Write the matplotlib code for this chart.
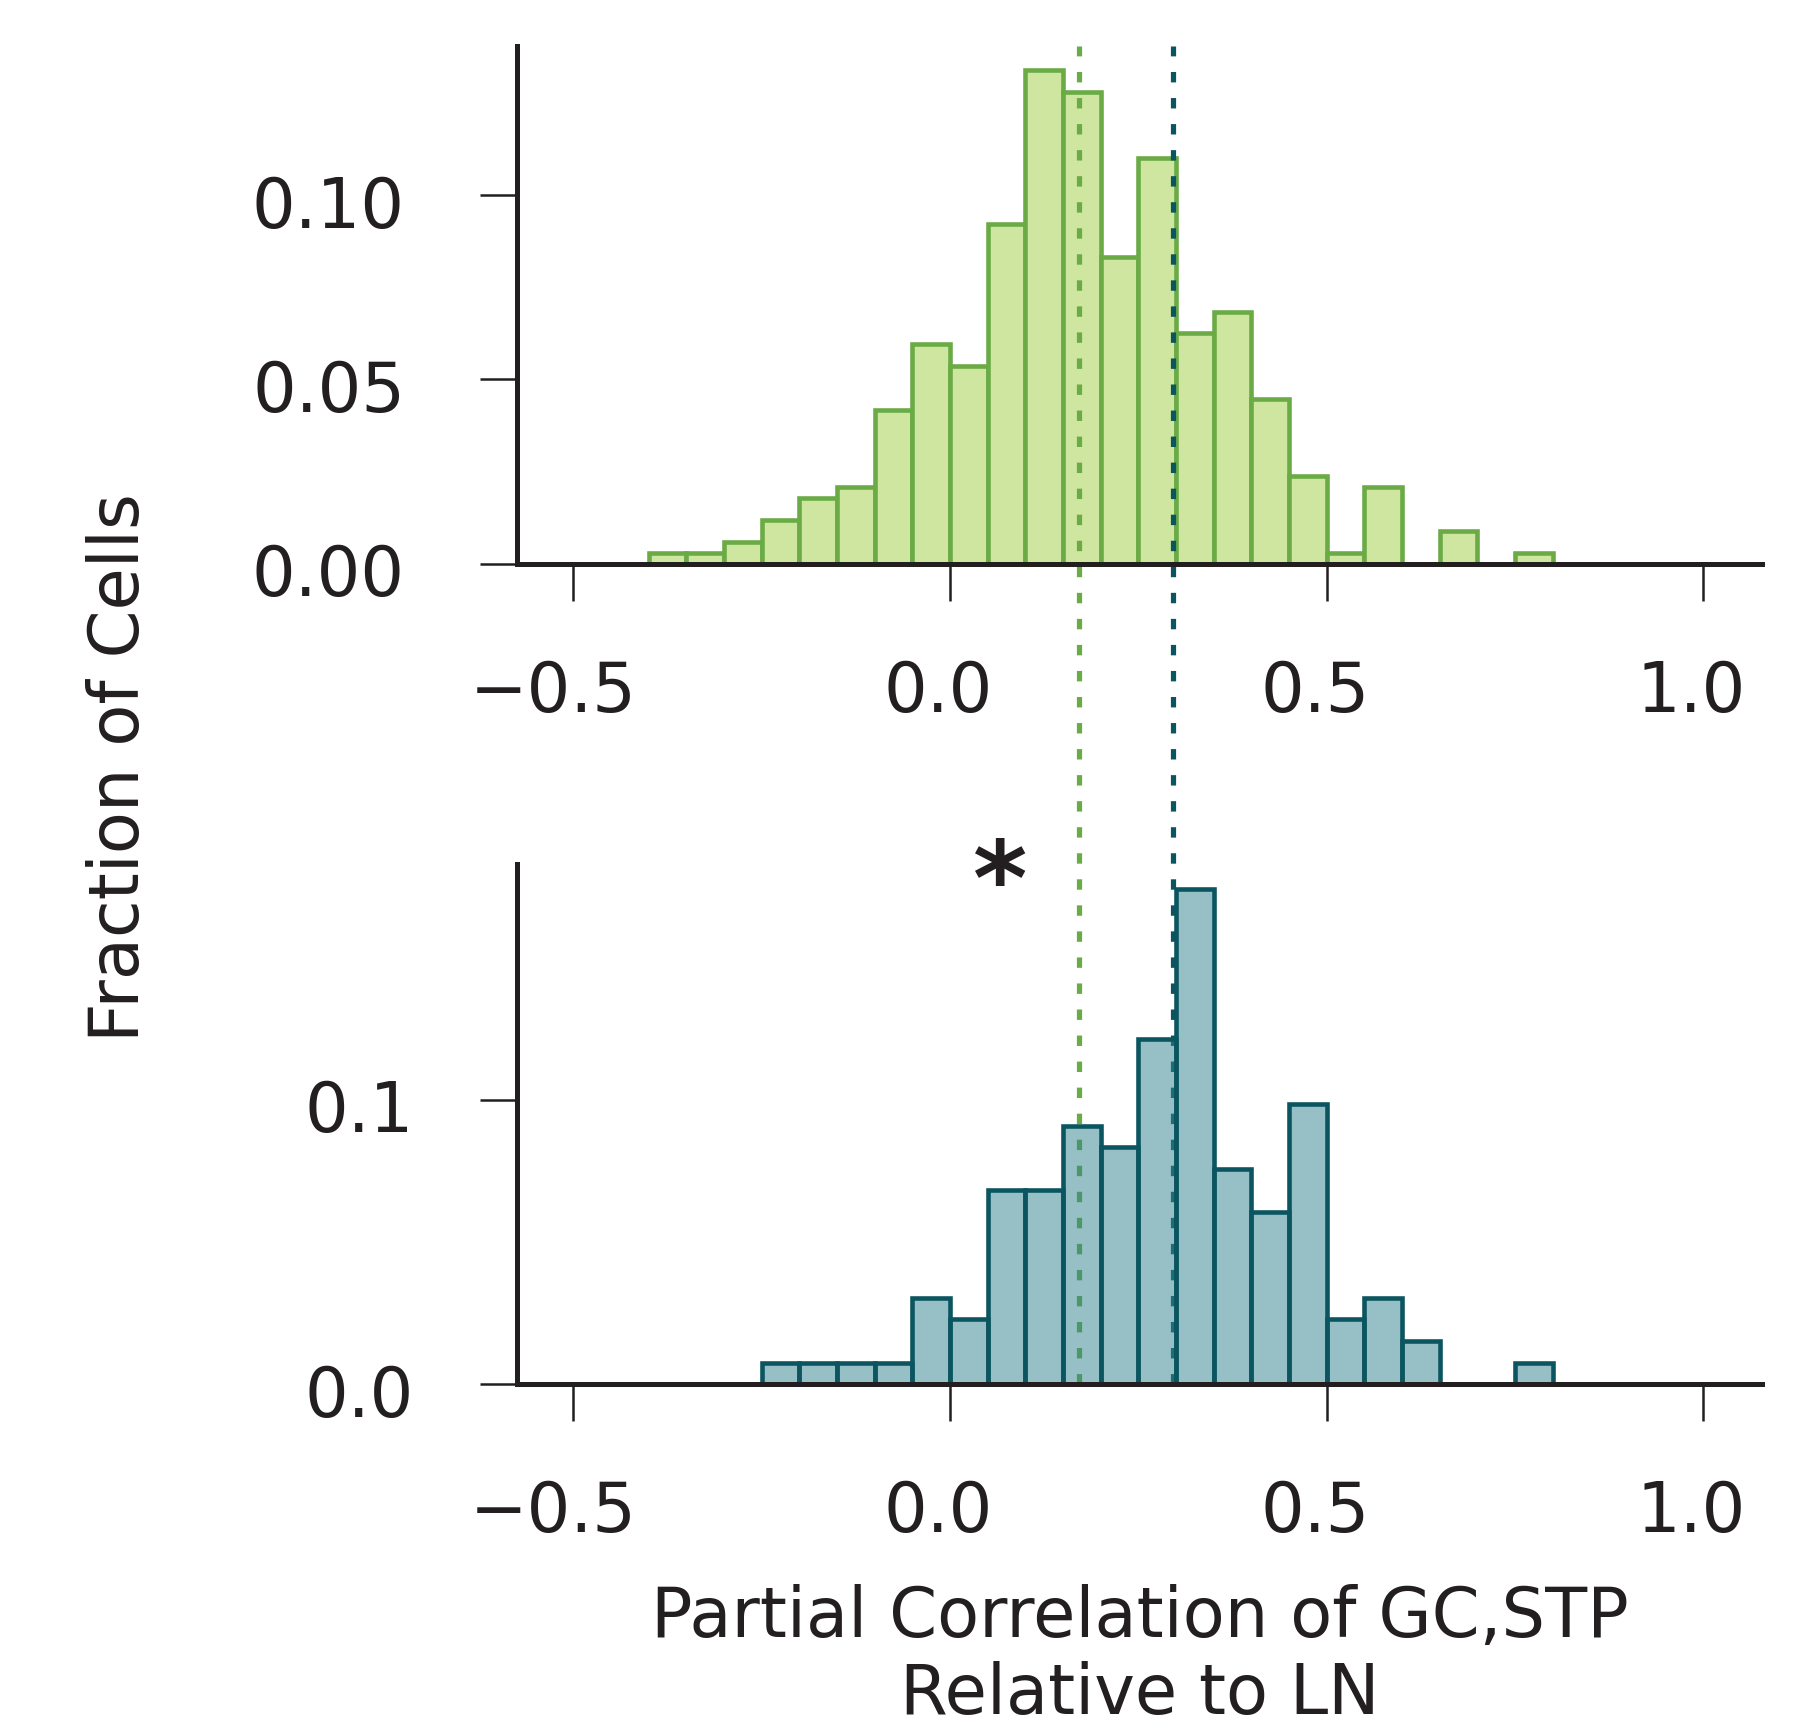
import matplotlib
matplotlib.use('Agg')
import matplotlib.pyplot as plt
import matplotlib.transforms as mtransforms
import numpy as np

# binned cell counts (bin width 0.05)
bin_width = 0.05
gcstp_first_edge = -0.40
gcstp_counts = [1, 1, 2, 4, 6, 7, 14, 20, 18, 31, 45, 43, 28, 37, 21, 23, 15, 8, 1, 7, 0, 3, 0, 1]
stp_first_edge = -0.25
stp_counts = [1, 1, 1, 1, 4, 3, 9, 9, 12, 11, 16, 23, 10, 8, 13, 3, 4, 2, 0, 0, 1]

# medians of the two groups
gcstp_median = 0.171
stp_median = 0.296

x_ticks = [-0.5, 0.0, 0.5, 1.0]
top_y_ticks = [0.00, 0.05, 0.10]
bottom_y_ticks = [0.0, 0.1]

green_edge = '#6aab46'
green_fill = '#cfe6a0'
teal_edge = '#0b5560'
teal_fill = (0.184, 0.514, 0.553, 0.5)
text_color = '#231f20'

plt.rcParams['font.family'] = 'DejaVu Sans'
plt.rcParams['text.color'] = text_color
plt.rcParams['axes.labelcolor'] = text_color

DPI = 300
fig = plt.figure(figsize=(1813 / DPI, 1729 / DPI), dpi=DPI)
ax1 = fig.add_axes([0.285, 0.674, 0.687, 0.2996])
ax2 = fig.add_axes([0.285, 0.1995, 0.687, 0.3008])


def plot_hist(ax, first_edge, counts, face, edge):
    counts = np.array(counts, dtype=float)
    lefts = first_edge + bin_width * np.arange(len(counts))
    ax.bar(lefts, counts / counts.sum(), width=bin_width, align='edge',
           facecolor=face, edgecolor=edge, linewidth=1.1, zorder=2)


def shift(label, dx, dy):
    # nudge a text by some pixels
    off = mtransforms.ScaledTranslation(dx / DPI, dy / DPI, fig.dpi_scale_trans)
    label.set_transform(label.get_transform() + off)


plot_hist(ax1, gcstp_first_edge, gcstp_counts, green_fill, green_edge)
plot_hist(ax2, stp_first_edge, stp_counts, teal_fill, teal_edge)

for ax, yt, ydx in [(ax1, top_y_ticks, 0), (ax2, bottom_y_ticks, 9)]:
    ax.patch.set_visible(False)
    ax.set_xlim(-0.575, 1.078)
    ax.set_xticks(x_ticks)
    ax.set_yticks(yt)
    for s in ['top', 'right']:
        ax.spines[s].set_visible(False)
    for s in ['left', 'bottom']:
        ax.spines[s].set_linewidth(1.2)
        ax.spines[s].set_color(text_color)
        ax.spines[s].set_zorder(4)
    ax.tick_params(direction='out', length=8.8, width=0.6, labelsize=16.5,
                   color=text_color, labelcolor=text_color)
    ax.tick_params(axis='x', pad=14)
    ax.tick_params(axis='y', pad=18)
    for i, lab in enumerate(ax.get_xticklabels()):
        shift(lab, -20 if i == 0 else -12, 0)
    for lab in ax.get_yticklabels():
        shift(lab, ydx, -6)

# median lines run from the top panel down through the bottom one
for xm, c in [(gcstp_median, green_edge), (stp_median, teal_edge)]:
    ax1.axvline(xm, ymin=-1.583, ymax=1, clip_on=False, color=c,
                linewidth=1.25, dashes=(2, 3), zorder=3)

ax2.text(0.066, 0.175, '*', fontsize=25, fontweight='bold', ha='center', va='center')
ax2.set_xlabel('Partial Correlation of GC,STP\nRelative to LN', fontsize=16.5, labelpad=9)
fig.text(120 / 1813, 1 - 768 / 1729, 'Fraction of Cells', rotation=90,
         ha='center', va='center', fontsize=16.5)

fig.savefig('out.png', dpi=DPI)
